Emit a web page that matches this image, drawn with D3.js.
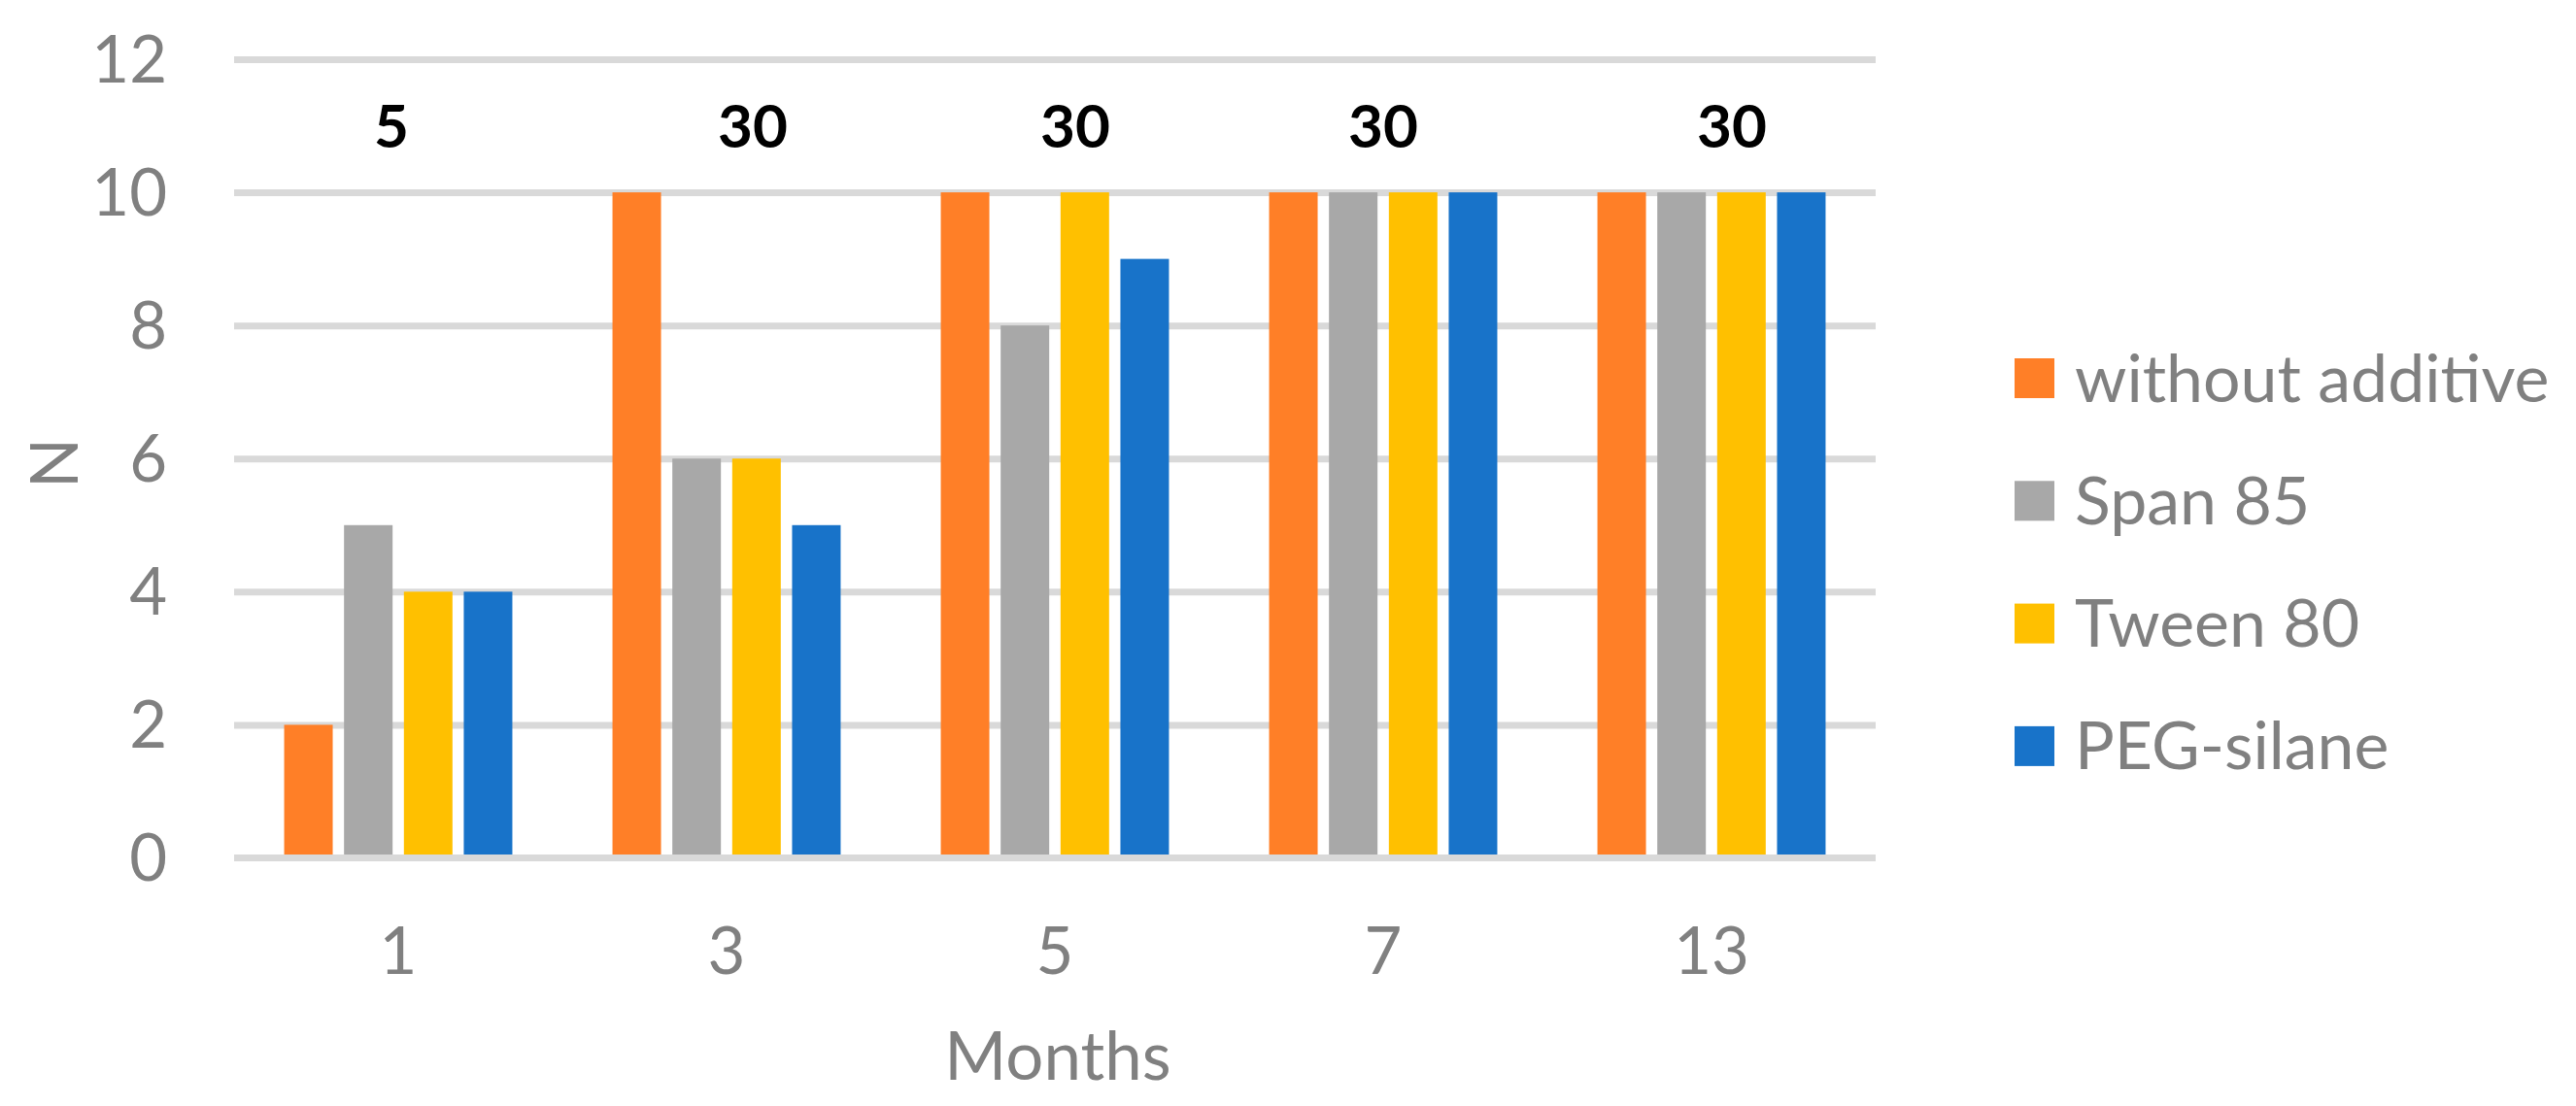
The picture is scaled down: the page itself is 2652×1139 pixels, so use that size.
<!DOCTYPE html>
<html>
<head>
<meta charset="utf-8">
<script src="https://cdn.jsdelivr.net/npm/d3@7"></script>
<style>
  html, body { margin: 0; padding: 0; background: #ffffff; }
  svg { display: block; font-family: Lato, "Open Sans", sans-serif; }
</style>
</head>
<body>
<svg id="chart" width="2652" height="1139"></svg>
<script>
// ---- data ----
const months = ["1", "3", "5", "7", "13"];
const seriesNames = ["without additive", "Span 85", "Tween 80", "PEG-silane"];
const withoutAdditive = [2, 10, 10, 10, 10];
const span85 = [5, 6, 8, 10, 10];
const tween80 = [4, 6, 10, 10, 10];
const pegSilane = [4, 5, 9, 10, 10];
const topLabels = ["5", "30", "30", "30", "30"];
const yTicks = [0, 2, 4, 6, 8, 10, 12];

// ---- styling / layout ----
const colors = ["#ff7f27", "#a8a8a8", "#ffc000", "#1873c9"];
const labelNudge = [-7, 27, 21, 0, 21];
const textGray = "#808080";
const gridColor = "#d9d9d9";

const seriesValues = [withoutAdditive, span85, tween80, pegSilane];
const rows = months.map((m, i) => ({
  month: m,
  values: seriesNames.map((s, j) => ({ series: s, idx: j, value: seriesValues[j][i] }))
}));

const svg = d3.select("#chart");
const plotLeft = 241, plotRight = 1931, plotTop = 61, plotBottom = 883.5;

const x0 = d3.scaleBand().domain(months).range([plotLeft, plotRight])
  .paddingInner(0.305).paddingOuter(0.1525);
const x1 = d3.scaleBand().domain(seriesNames).range([0, x0.bandwidth()])
  .paddingInner(0.189).paddingOuter(0);
const y = d3.scaleLinear().domain([0, 12]).range([plotBottom, plotTop]);

// gridlines + y tick labels
const yAxis = svg.append("g")
  .attr("transform", `translate(${plotLeft},0)`)
  .call(d3.axisLeft(y).tickValues(yTicks).tickSize(-(plotRight - plotLeft)).tickPadding(69));
yAxis.select(".domain").remove();
yAxis.selectAll(".tick line").attr("stroke", gridColor).attr("stroke-width", 7)
  .filter(d => d === 0).remove();
yAxis.selectAll(".tick text")
  .attr("fill", textGray).attr("font-size", 67).attr("dy", null).attr("y", 23)
  .attr("font-family", "Lato");

// bars
const groups = svg.append("g").selectAll("g").data(rows).join("g")
  .attr("transform", d => `translate(${x0(d.month)},0)`);
groups.selectAll("rect").data(d => d.values).join("rect")
  .attr("x", d => x1(d.series))
  .attr("width", x1.bandwidth())
  .attr("y", d => y(d.value))
  .attr("height", d => y(0) - y(d.value))
  .attr("fill", d => colors[d.idx]);

// baseline (drawn over bars)
svg.append("line")
  .attr("x1", plotLeft).attr("x2", plotRight)
  .attr("y1", y(0)).attr("y2", y(0))
  .attr("stroke", gridColor).attr("stroke-width", 7);

// x axis labels
const xAxis = svg.append("g")
  .attr("transform", `translate(0,${y(0)})`)
  .call(d3.axisBottom(x0).tickSize(0).tickPadding(0));
xAxis.select(".domain").remove();
xAxis.selectAll(".tick text")
  .attr("fill", textGray).attr("font-size", 67).attr("dy", null)
  .attr("y", 1003 - y(0)).attr("font-family", "Lato");

// top labels
svg.append("g").selectAll("text").data(topLabels).join("text")
  .attr("x", (d, i) => x0(months[i]) + x0.bandwidth() / 2 + labelNudge[i])
  .attr("y", 152)
  .attr("text-anchor", "middle")
  .attr("font-size", 62).attr("font-weight", "bold").attr("fill", "#000")
  .text(d => d);

// axis titles
svg.append("text")
  .attr("x", (plotLeft + plotRight) / 2 + 3).attr("y", 1112)
  .attr("text-anchor", "middle").attr("font-size", 69).attr("fill", textGray)
  .text("Months");
svg.append("text")
  .attr("transform", "translate(80,477) rotate(-90)")
  .attr("text-anchor", "middle").attr("font-size", 68).attr("fill", textGray)
  .text("N");

// legend
const legend = svg.append("g").selectAll("g").data(seriesNames).join("g")
  .attr("transform", (d, i) => `translate(2074,${389.5 + i * 126.3})`);
legend.append("rect")
  .attr("x", 0).attr("y", -20.5).attr("width", 41).attr("height", 41)
  .attr("fill", (d, i) => colors[i]);
legend.append("text")
  .attr("x", 62).attr("y", 24)
  .attr("font-size", 68).attr("fill", textGray)
  .text(d => d);
</script>
</body>
</html>
